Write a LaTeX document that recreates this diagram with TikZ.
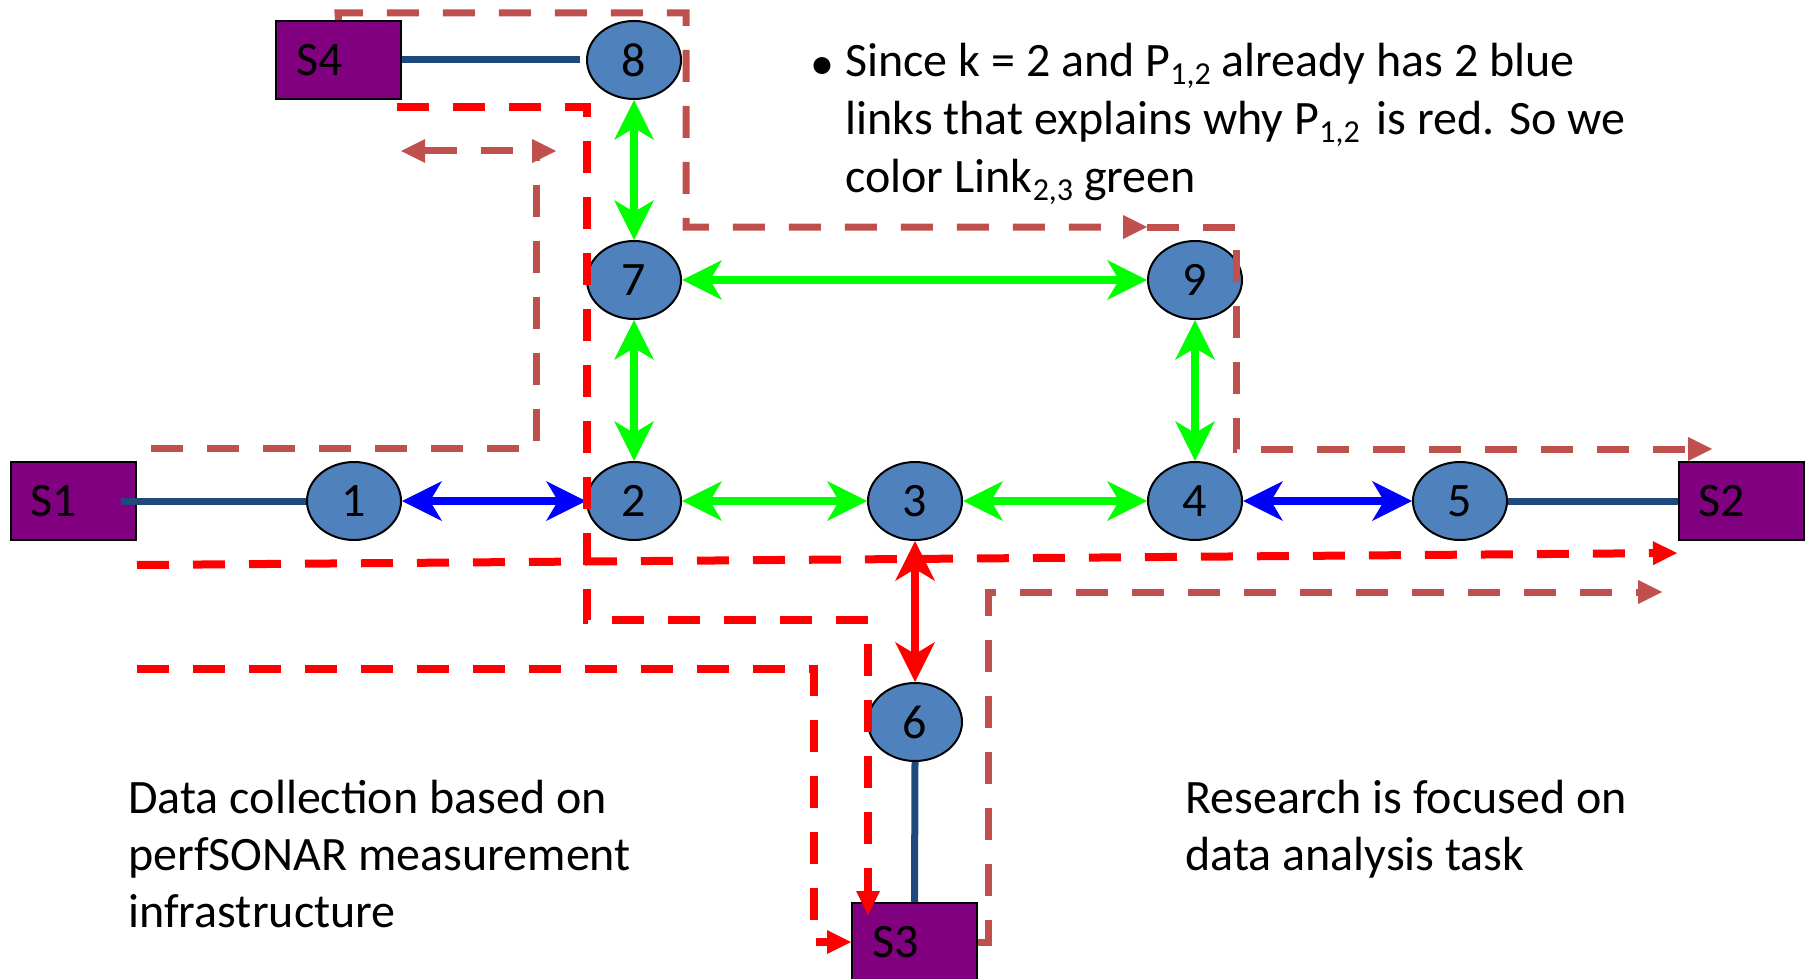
\documentclass[tikz,border=0pt]{standalone}
\usepackage{fontspec}
\setmainfont{Carlito}
\usetikzlibrary{arrows.meta,shapes.geometric}
\definecolor{routerfill}{HTML}{4F81BD}
\definecolor{hostfill}{HTML}{800080}
\definecolor{wirecol}{HTML}{1F497D}
\definecolor{pathbrown}{HTML}{C0504D}
\definecolor{pathred}{HTML}{FF0000}
\definecolor{linkgreen}{HTML}{00FF00}
\definecolor{linkblue}{HTML}{0000FF}
\definecolor{linkred}{HTML}{FF0000}
% lowered, smaller index such as P_{1,2}
\newcommand{\subidx}[1]{\raisebox{-4pt}{\fontsize{16}{18}\selectfont #1}}

\begin{document}
\begin{tikzpicture}[x=0.5pt,y=-0.5pt,
  every node/.style={font=\fontsize{24}{28.5}\selectfont},
  router/.style={ellipse, draw=black, line width=1pt, fill=routerfill,
    minimum width=47pt, minimum height=39pt, inner sep=0pt},
  host/.style={rectangle, draw=black, line width=1pt, fill=hostfill,
    minimum height=39pt, text width=42.5pt, inner xsep=10pt, inner ysep=0pt, align=left},
  wire/.style={draw=wirecol, line width=3.5pt},
  bigtip/.tip={Stealth[length=20pt, width=20pt, inset=6pt, line width=0pt]},
  smalltip/.tip={Triangle[length=12pt, width=12pt, line width=0pt]},
  link/.style={line width=4pt, arrows={bigtip-bigtip}},
  route/.style={line width=3.5pt, dash pattern=on 16pt off 12pt},
  oldroute/.style={route, draw=pathbrown},
  newroute/.style={route, draw=pathred, line width=4pt},
  txt/.style={anchor=base west, inner sep=0pt}
]
\useasboundingbox (0,0) rectangle (1810,979);

% routers
\node[router] (n8) at (634,60)  {8};
\node[router] (n7) at (634,280) {7};
\node[router] (n9) at (1195,280) {9};
\node[router] (n1) at (354,501) {1};
\node[router] (n2) at (634,501) {2};
\node[router] (n3) at (915,501) {3};
\node[router] (n4) at (1195,501) {4};
\node[router] (n5) at (1460,501) {5};
\node[router] (n6) at (915,722) {6};

% measurement hosts
\node[host] (S4) at (338.5,60) {S4};
\node[host] (S1) at (73,501)   {S1};
\node[host] (S2) at (1741,501) {S2};
\node[host] (S3) at (914.5,942) {S3};

% host attachments
\draw[wire] ([xshift=-8pt]S1.east) -- (n1.west);
\draw[wire] (n5.east) -- (S2.west);
\draw[wire] (S4.east) -- ([xshift=-3pt]n8.west);
\draw[wire] (n6.south) -- (S3.north);

% link states
\draw[link, color=linkblue] (n1) -- (n2);
\draw[link, color=linkblue] (n4) -- (n5);
\draw[link, color=linkgreen] (n8) -- (n7);
\draw[link, color=linkgreen] (n7) -- (n9);
\draw[link, color=linkgreen] (n7) -- (n2);
\draw[link, color=linkgreen] (n9) -- (n4);
\draw[link, color=linkgreen] (n2) -- (n3);
\draw[link, color=linkgreen] (n3) -- (n4);
\draw[link, color=linkred] (n3) -- (n6);

% measurement paths
\coordinate (a1) at (338,13);
\coordinate (a2) at (686,13);
\coordinate (a3) at (686,227);
\coordinate (a4) at (1147,227);
\coordinate (a5) at (1236,227);
\coordinate (a6) at (1236,449);
\coordinate (a7) at (1712,449);
\draw[oldroute, -smalltip] (S4.north) -- (a1) -- (a2) -- (a3) -- (a4);
\draw[oldroute, -smalltip] (a4) -- (a5) -- (a6) -- (a7);

\coordinate (b1) at (151,448);
\coordinate (b2) at (536,448);
\coordinate (b3) at (536,151);
\coordinate (b4) at (401,151);
\coordinate (b5) at (556,151);
\draw[oldroute] (b1) -- (b2) -- (b3);
\draw[oldroute, smalltip-smalltip] (b4) -- (b5);

\coordinate (c1) at (988,942);
\coordinate (c2) at (988,592);
\coordinate (c3) at (1662,592);
\draw[oldroute, -smalltip] (S3.east) -- (c1) -- (c2) -- (c3);

\coordinate (d1) at (397,107);
\coordinate (d2) at (587,107);
\coordinate (d3) at (587,620);
\coordinate (d4) at (868,620);
\coordinate (d5) at (868,915);
\draw[newroute, -smalltip] (d1) -- (d2) -- (d3) -- (d4) -- (d5);

\coordinate (e1) at (137,565);
\coordinate (e2) at (1677,553);
\draw[newroute, -smalltip] (e1) -- (e2);

\coordinate (g1) at (137,669);
\coordinate (g2) at (814,669);
\coordinate (g3) at (814,942);
\draw[newroute, -smalltip] (g1) -- (g2) -- (g3) -- (S3.west);

% notes
\node[inner sep=0pt] (bullet) at (822,69) {•};
\node[txt] (note1) at (845,77)  {Since k = 2 and P\subidx{1,2} already has 2 blue};
\node[txt] (note2) at (845,134) {links that explains why P\subidx{1,2}\hspace{3pt} is red. So we};
\node[txt] (note3) at (845,192) {color Link\subidx{2,3} green};

\node[txt] (left1) at (128,813) {Data collection based on};
\node[txt] (left2) at (128,870) {perfSONAR measurement};
\node[txt] (left3) at (128,927) {infrastructure};

\node[txt] (right1) at (1185,813) {Research is focused on};
\node[txt] (right2) at (1185,870) {data analysis task};
\end{tikzpicture}
\end{document}
